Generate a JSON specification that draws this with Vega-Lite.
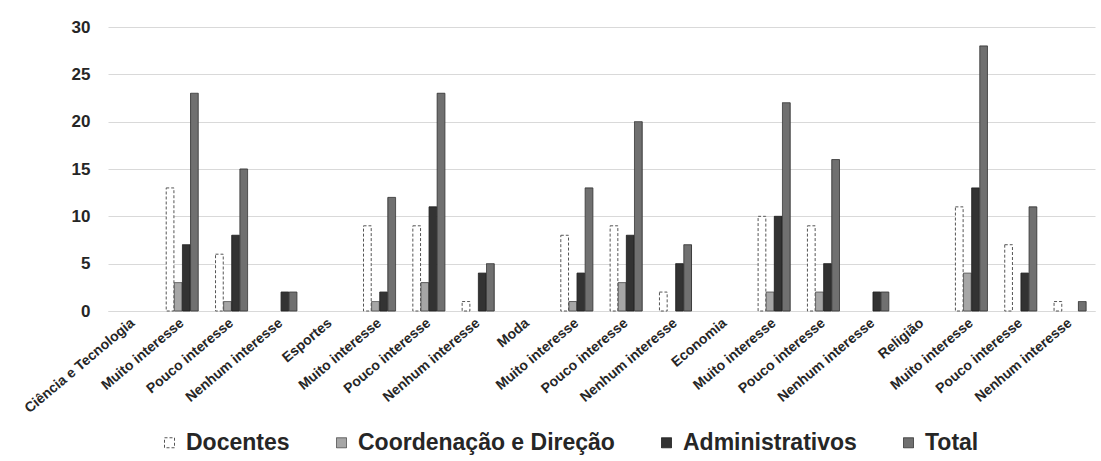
{
  "$schema": "https://vega.github.io/schema/vega-lite/v6.json",
  "autosize": {"type": "none"},
  "width": 987,
  "height": 284,
  "padding": {"left": 108, "top": 27, "right": 6, "bottom": 150},
  "background": "white",
  "config": {
    "font": "Liberation Sans",
    "view": {"stroke": null}
  },
  "data": {
    "values": [
      {"cat": "Muito interesse|CT", "grupo": "Docentes", "valor": 13},
      {"cat": "Muito interesse|CT", "grupo": "Coordenação e Direção", "valor": 3},
      {"cat": "Muito interesse|CT", "grupo": "Administrativos", "valor": 7},
      {"cat": "Muito interesse|CT", "grupo": "Total", "valor": 23},
      {"cat": "Pouco interesse|CT", "grupo": "Docentes", "valor": 6},
      {"cat": "Pouco interesse|CT", "grupo": "Coordenação e Direção", "valor": 1},
      {"cat": "Pouco interesse|CT", "grupo": "Administrativos", "valor": 8},
      {"cat": "Pouco interesse|CT", "grupo": "Total", "valor": 15},
      {"cat": "Nenhum interesse|CT", "grupo": "Docentes", "valor": 0},
      {"cat": "Nenhum interesse|CT", "grupo": "Coordenação e Direção", "valor": 0},
      {"cat": "Nenhum interesse|CT", "grupo": "Administrativos", "valor": 2},
      {"cat": "Nenhum interesse|CT", "grupo": "Total", "valor": 2},
      {"cat": "Muito interesse|ES", "grupo": "Docentes", "valor": 9},
      {"cat": "Muito interesse|ES", "grupo": "Coordenação e Direção", "valor": 1},
      {"cat": "Muito interesse|ES", "grupo": "Administrativos", "valor": 2},
      {"cat": "Muito interesse|ES", "grupo": "Total", "valor": 12},
      {"cat": "Pouco interesse|ES", "grupo": "Docentes", "valor": 9},
      {"cat": "Pouco interesse|ES", "grupo": "Coordenação e Direção", "valor": 3},
      {"cat": "Pouco interesse|ES", "grupo": "Administrativos", "valor": 11},
      {"cat": "Pouco interesse|ES", "grupo": "Total", "valor": 23},
      {"cat": "Nenhum interesse|ES", "grupo": "Docentes", "valor": 1},
      {"cat": "Nenhum interesse|ES", "grupo": "Coordenação e Direção", "valor": 0},
      {"cat": "Nenhum interesse|ES", "grupo": "Administrativos", "valor": 4},
      {"cat": "Nenhum interesse|ES", "grupo": "Total", "valor": 5},
      {"cat": "Muito interesse|MO", "grupo": "Docentes", "valor": 8},
      {"cat": "Muito interesse|MO", "grupo": "Coordenação e Direção", "valor": 1},
      {"cat": "Muito interesse|MO", "grupo": "Administrativos", "valor": 4},
      {"cat": "Muito interesse|MO", "grupo": "Total", "valor": 13},
      {"cat": "Pouco interesse|MO", "grupo": "Docentes", "valor": 9},
      {"cat": "Pouco interesse|MO", "grupo": "Coordenação e Direção", "valor": 3},
      {"cat": "Pouco interesse|MO", "grupo": "Administrativos", "valor": 8},
      {"cat": "Pouco interesse|MO", "grupo": "Total", "valor": 20},
      {"cat": "Nenhum interesse|MO", "grupo": "Docentes", "valor": 2},
      {"cat": "Nenhum interesse|MO", "grupo": "Coordenação e Direção", "valor": 0},
      {"cat": "Nenhum interesse|MO", "grupo": "Administrativos", "valor": 5},
      {"cat": "Nenhum interesse|MO", "grupo": "Total", "valor": 7},
      {"cat": "Muito interesse|EC", "grupo": "Docentes", "valor": 10},
      {"cat": "Muito interesse|EC", "grupo": "Coordenação e Direção", "valor": 2},
      {"cat": "Muito interesse|EC", "grupo": "Administrativos", "valor": 10},
      {"cat": "Muito interesse|EC", "grupo": "Total", "valor": 22},
      {"cat": "Pouco interesse|EC", "grupo": "Docentes", "valor": 9},
      {"cat": "Pouco interesse|EC", "grupo": "Coordenação e Direção", "valor": 2},
      {"cat": "Pouco interesse|EC", "grupo": "Administrativos", "valor": 5},
      {"cat": "Pouco interesse|EC", "grupo": "Total", "valor": 16},
      {"cat": "Nenhum interesse|EC", "grupo": "Docentes", "valor": 0},
      {"cat": "Nenhum interesse|EC", "grupo": "Coordenação e Direção", "valor": 0},
      {"cat": "Nenhum interesse|EC", "grupo": "Administrativos", "valor": 2},
      {"cat": "Nenhum interesse|EC", "grupo": "Total", "valor": 2},
      {"cat": "Muito interesse|RE", "grupo": "Docentes", "valor": 11},
      {"cat": "Muito interesse|RE", "grupo": "Coordenação e Direção", "valor": 4},
      {"cat": "Muito interesse|RE", "grupo": "Administrativos", "valor": 13},
      {"cat": "Muito interesse|RE", "grupo": "Total", "valor": 28},
      {"cat": "Pouco interesse|RE", "grupo": "Docentes", "valor": 7},
      {"cat": "Pouco interesse|RE", "grupo": "Coordenação e Direção", "valor": 0},
      {"cat": "Pouco interesse|RE", "grupo": "Administrativos", "valor": 4},
      {"cat": "Pouco interesse|RE", "grupo": "Total", "valor": 11},
      {"cat": "Nenhum interesse|RE", "grupo": "Docentes", "valor": 1},
      {"cat": "Nenhum interesse|RE", "grupo": "Coordenação e Direção", "valor": 0},
      {"cat": "Nenhum interesse|RE", "grupo": "Administrativos", "valor": 0},
      {"cat": "Nenhum interesse|RE", "grupo": "Total", "valor": 1}
    ]
  },
  "transform": [{"filter": "datum.valor > 0"}],
  "mark": {"type": "bar", "strokeWidth": 1},
  "encoding": {
    "x": {
      "field": "cat",
      "type": "nominal",
      "sort": null,
      "scale": {
        "domain": [
          "Ciência e Tecnologia", "Muito interesse|CT", "Pouco interesse|CT", "Nenhum interesse|CT",
          "Esportes", "Muito interesse|ES", "Pouco interesse|ES", "Nenhum interesse|ES",
          "Moda", "Muito interesse|MO", "Pouco interesse|MO", "Nenhum interesse|MO",
          "Economia", "Muito interesse|EC", "Pouco interesse|EC", "Nenhum interesse|EC",
          "Religião", "Muito interesse|RE", "Pouco interesse|RE", "Nenhum interesse|RE"
        ],
        "paddingInner": 0.35,
        "paddingOuter": 0.18
      },
      "axis": {
        "title": null,
        "labelExpr": "split(datum.label, '|')[0]",
        "labelAngle": -40,
        "labelAlign": "right",
        "labelBaseline": "middle",
        "labelFontSize": 14,
        "labelFontWeight": "bold",
        "labelColor": "#262626",
        "labelPadding": 10,
        "labelLimit": 0,
        "ticks": false,
        "domainColor": "#d9d9d9",
        "labelOverlap": false
      }
    },
    "xOffset": {
      "field": "grupo",
      "type": "nominal",
      "sort": ["Docentes", "Coordenação e Direção", "Administrativos", "Total"],
      "scale": {"domain": ["Docentes", "Coordenação e Direção", "Administrativos", "Total"], "paddingInner": 0.05}
    },
    "y": {
      "field": "valor",
      "type": "quantitative",
      "scale": {"domain": [0, 30]},
      "axis": {
        "title": null,
        "values": [0, 5, 10, 15, 20, 25, 30],
        "labelFontSize": 17,
        "labelFontWeight": "bold",
        "labelColor": "#262626",
        "labelPadding": 18,
        "ticks": false,
        "domain": false,
        "gridColor": "#d9d9d9"
      }
    },
    "fill": {
      "field": "grupo",
      "type": "nominal",
      "title": null,
      "scale": {
        "domain": ["Docentes", "Coordenação e Direção", "Administrativos", "Total"],
        "range": ["#ffffff", "#a6a6a6", "#333333", "#707070"]
      },
      "legend": {
        "orient": "none",
        "direction": "horizontal",
        "legendX": 50,
        "legendY": 404,
        "symbolType": "square",
        "symbolSize": 100,
        "symbolStrokeWidth": 1,
        "labelFontSize": 23,
        "labelFontWeight": "bold",
        "labelColor": "#262626",
        "labelLimit": 0,
        "columnPadding": 40,
        "labelOffset": 5
      }
    },
    "stroke": {
      "field": "grupo",
      "type": "nominal",
      "title": null,
      "scale": {
        "domain": ["Docentes", "Coordenação e Direção", "Administrativos", "Total"],
        "range": ["#555555", "#555555", "#222222", "#3a3a3a"]
      }
    },
    "strokeDash": {
      "field": "grupo",
      "type": "nominal",
      "title": null,
      "scale": {
        "domain": ["Docentes", "Coordenação e Direção", "Administrativos", "Total"],
        "range": [[3, 2], [1, 0], [1, 0], [1, 0]]
      }
    }
  }
}
